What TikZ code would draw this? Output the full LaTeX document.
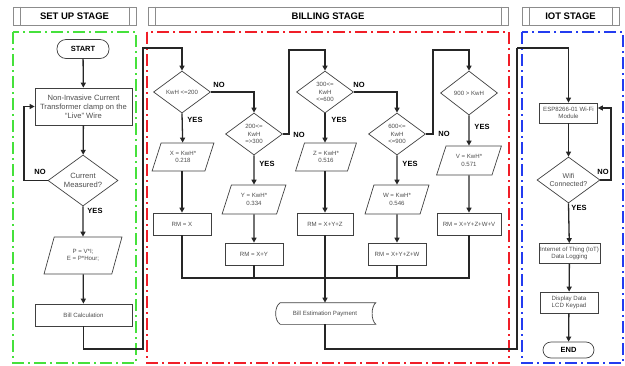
\documentclass[tikz,border=0pt]{standalone}
\usepackage{fontspec}
\setmainfont{Liberation Sans}
\usetikzlibrary{shapes.geometric,arrows.meta}

\definecolor{frgreen}{RGB}{70,225,60}
\definecolor{frred}{RGB}{240,30,40}
\definecolor{frblue}{RGB}{35,60,240}

\begin{document}
\begin{tikzpicture}[
    x=1pt, y=-1pt,
    line width=0.7pt,
    box/.style={
      draw=black!75, align=center, text=black!70,
      font=\fontsize{6.1}{7.3}\selectfont, inner sep=1pt
    },
    proc/.style={box, minimum width=58pt, minimum height=22pt},
    bigtext/.style={font=\fontsize{7.6}{9}\selectfont},
    term/.style={
      box, rounded corners=8pt, text=black,
      font=\bfseries\fontsize{7.5}{9}\selectfont,
      minimum width=52pt, minimum height=18pt
    },
    cond/.style={
      box, diamond, aspect=1.4, inner sep=0pt,
      minimum width=57pt, minimum height=42pt
    },
    io/.style={
      box, trapezium, trapezium left angle=65, trapezium right angle=115,
      trapezium stretches=true, inner sep=0pt,
      minimum width=62pt, minimum height=28pt
    },
    lbl/.style={font=\bfseries\fontsize{7.5}{9}\selectfont, inner sep=0pt},
    flow/.style={line width=1.3pt, black!85},
    arr/.style={flow, -{Triangle[length=5pt,width=5pt]}},
    frame/.style={line width=1.4pt, dash pattern=on 12pt off 4pt on 2pt off 4pt},
    stagebar/.style={
      draw=black!45, line width=0.8pt, inner sep=0pt,
      font=\bfseries\fontsize{9.5}{11}\selectfont, minimum height=18pt
    }
  ]
    \useasboundingbox (0,0) rectangle (625,365);

    % stage headers
    \node[stagebar, minimum width=123pt] (setbar) at (74.5,16) {SET UP STAGE};
    \node[stagebar, minimum width=360pt] (billbar) at (328,16) {BILLING STAGE};
    \node[stagebar, minimum width=97pt] (iotbar) at (570.5,16) {IOT STAGE};
    \foreach \b in {setbar,billbar,iotbar} {
      \draw[black!45, line width=0.8pt] ([xshift=7.5pt]\b.north west) -- ([xshift=7.5pt]\b.south west);
      \draw[black!45, line width=0.8pt] ([xshift=-7.5pt]\b.north east) -- ([xshift=-7.5pt]\b.south east);
    }

    % stage frames
    \draw[frame, frgreen] (13,32) rectangle (136,363);
    \draw[frame, frred] (147,32) rectangle (509,363);
    \draw[frame, frblue] (522,32) rectangle (623,363);

    % set up stage
    \node[term, minimum width=52pt, minimum height=19pt, rounded corners=9pt] (start) at (83,49) {START};
    \node[proc, bigtext, minimum width=97pt, minimum height=37pt] (clamp) at (83.5,106.5)
      {Non-Invasive Current\\Transformer clamp on the\\``Live'' Wire};
    \node[cond, bigtext, minimum width=70pt, minimum height=51pt] (measured) at (83,180.5) {Current\\Measured?};
    \node[io, minimum width=78pt, minimum height=37pt] (power) at (83,255.5) {P = V*I;\\E = P*Hour;};
    \node[proc, minimum width=97pt] (billcalc) at (83.5,315) {Bill Calculation};

    % billing stage
    \node[cond] (kw1) at (182,92) {KwH <=200};
    \node[cond] (kw2) at (254,134) {200<=\\KwH\\=>300};
    \node[cond] (kw3) at (325,92) {300<=\\KwH\\<=600};
    \node[cond] (kw4) at (397,134) {600<=\\KwH\\<=900};
    \node[cond, minimum height=44pt] (kw5) at (469,93) {900 > KwH};

    \node[io] (px) at (183,157) {X = KwH*\\0.218};
    \node[io, minimum width=64pt, minimum height=29pt] (py) at (254,199.5) {Y = KwH*\\0.334};
    \node[io, minimum width=61pt] (pz) at (326,157) {Z = KwH*\\0.516};
    \node[io, minimum width=64pt, minimum height=29pt] (pw) at (397,199.5) {W = KwH*\\0.546};
    \node[io, minimum width=65pt, minimum height=29pt] (pv) at (469,160.5) {V = KwH*\\0.571};

    \node[proc] (rmx) at (182,224) {RM = X};
    \node[proc] (rmy) at (254,254) {RM = X+Y};
    \node[proc, minimum width=56pt] (rmz) at (325,224) {RM = X+Y+Z};
    \node[proc] (rmw) at (397,254) {RM = X+Y+Z+W};
    \node[proc, minimum width=64pt] (rmv) at (469,224) {RM = X+Y+Z+W+V};

    \node[box, draw=none, minimum width=101pt, minimum height=21pt] (pay) at (325,313.5) {Bill Estimation Payment};
    \draw[black!75] ([xshift=6pt]pay.north west) -- (pay.north east)
      .. controls ([xshift=-5pt,yshift=-4pt]pay.north east) and ([xshift=-5pt,yshift=4pt]pay.south east) .. (pay.south east)
      -- ([xshift=6pt]pay.south west)
      .. controls ([xshift=0pt,yshift=4pt]pay.south west) and ([xshift=0pt,yshift=-4pt]pay.north west) .. cycle;

    % iot stage
    \node[proc, minimum width=58pt, minimum height=20pt] (esp) at (568.5,113) {ESP8266-01 Wi-Fi\\Module};
    \node[cond, font=\fontsize{7}{8.4}\selectfont, minimum width=63pt, minimum height=46pt] (wifi) at (568.5,180) {Wifi\\Connected?};
    \node[proc, minimum width=60pt, minimum height=20pt] (iot) at (569.5,253.5) {Internet of Thing (IoT)\\Data Logging};
    \node[proc, minimum width=58pt, minimum height=21pt] (lcd) at (569,302.5) {Display Data\\LCD Keypad};
    \node[term, minimum width=51pt, minimum height=16pt] (finish) at (568.5,350) {END};

    % bends of the connectors
    \coordinate (lp) at (24,180.5);
    \coordinate (c1) at (143,349);
    \coordinate (c2) at (143,48);
    \coordinate (n2) at (289,50);
    \coordinate (n4) at (433,50);
    \coordinate (bus) at (325,278);
    \coordinate (c3) at (517,349);
    \coordinate (c4) at (517,48);
    \coordinate (wl) at (611,108);

    % set up flow
    \draw[arr] (start) -- (clamp);
    \draw[arr] (clamp) -- (measured);
    \draw[arr] (measured.west) -- (lp) |- (clamp.west);
    \draw[arr] (measured.south) -- (power);
    \draw[arr] (power) -- (billcalc);
    \draw[arr] (billcalc.south) |- (c1) -- (c2) -| (kw1.north);

    % billing flow
    \draw[arr] (kw1.east) -| (kw2.north);
    \draw[arr] (kw2.east) -| (n2) -| (kw3.north);
    \draw[arr] (kw3.east) -| (kw4.north);
    \draw[arr] (kw4.east) -| (n4) -| (kw5.north);
    \draw[arr] (kw1.south) -- (px);
    \draw[arr] (kw2.south) -- (py);
    \draw[arr] (kw3.south) -- (kw3.south |- pz.north);
    \draw[arr] (kw4.south) -- (pw);
    \draw[arr] (kw5.south) -- (pv);
    \draw[arr] (px.south -| rmx) -- (rmx);
    \draw[arr] (py) -- (rmy);
    \draw[arr] (pz.south -| rmz) -- (rmz);
    \draw[arr] (pw) -- (rmw);
    \draw[arr] (pv) -- (rmv);
    \draw[flow] (rmx.south) |- (bus) -| (rmv.south);
    \draw[flow] (rmy.south) -- (rmy.south |- bus);
    \draw[flow] (rmw.south) -- (rmw.south |- bus);
    \draw[arr] (rmz.south) -- (pay.north);
    \draw[flow] (pay.south) |- (c3) -- (c4);
    \draw[arr] (c4) -| (esp.north);

    % iot flow
    \draw[arr] (esp) -- (wifi);
    \draw[arr] (wifi.east) -| (wl) -- (wl -| esp.east);
    \draw[arr] (wifi.south) -- (iot);
    \draw[arr] (iot) -- (lcd);
    \draw[arr] (lcd) -- (finish);

    % branch labels
    \node[lbl] (no0) at (40,172) {NO};
    \node[lbl] (yes0) at (95,211) {YES};
    \node[lbl] (no1) at (219,85) {NO};
    \node[lbl] (yes1) at (195,120) {YES};
    \node[lbl] (no2) at (299,135) {NO};
    \node[lbl] (yes2) at (267,164) {YES};
    \node[lbl] (no3) at (359,85) {NO};
    \node[lbl] (yes3) at (339,120) {YES};
    \node[lbl] (no4) at (444,134) {NO};
    \node[lbl] (yes4) at (410,164) {YES};
    \node[lbl] (yes5) at (482,127) {YES};
    \node[lbl] (no6) at (603,172) {NO};
    \node[lbl] (yes6) at (579,208) {YES};
  \end{tikzpicture}
\end{document}
